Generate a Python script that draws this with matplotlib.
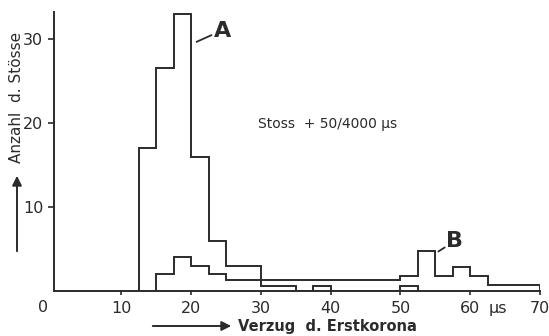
import matplotlib
matplotlib.use("Agg")
import matplotlib.pyplot as plt

# bin edges (µs) and heights
edges_a = [12.5, 15, 17.5, 20, 22.5, 25, 30, 50, 52.5, 55, 57.5, 60, 62.5, 70]
counts_a = [17, 26.5, 33, 16, 6, 3, 1.3, 1.8, 4.8, 1.8, 2.9, 1.8, 0.7]

edges_b = [15, 17.5, 20, 22.5, 25, 30, 35, 37.5, 40, 50, 52.5]
counts_b = [2, 4, 3, 2, 1.3, 0.6, 0, 0.6, 0, 0.6]

xticks = [10, 20, 30, 40, 50, 60, 70]
yticks = [10, 20, 30]

ink = "#2b2b2b"
lw = 1.4

fig = plt.figure(figsize=(5.49, 3.36), dpi=100)
ax = fig.add_axes([0.0747, 0.134, 0.909, 0.830])

ax.stairs(counts_a, edges_a, color=ink, lw=lw)
ax.stairs(counts_b, edges_b, color=ink, lw=lw)

ax.set_xlim(-1.5, 70)
ax.set_ylim(0, 33.2)

# axes look
for s in ["top", "right"]:
    ax.spines[s].set_visible(False)
ax.spines["left"].set_position(("data", 0.4))
ax.spines["bottom"].set_bounds(0.4, 70)
for s in ["left", "bottom"]:
    ax.spines[s].set_color(ink)
    ax.spines[s].set_linewidth(lw)

ax.set_xticks(xticks)
ax.set_xticklabels([str(t) for t in xticks])
ax.set_yticks(yticks)
ax.set_yticklabels([str(t) for t in yticks])
ax.tick_params(colors=ink, labelsize=11.5, width=1.2)
ax.tick_params(axis="x", length=3, pad=4)
ax.tick_params(axis="y", length=4, pad=4)

# corner zero and unit sit among the x tick labels
ax.text(-1.2, -1.1, "0", ha="center", va="top", fontsize=11.5, color=ink)
ax.text(64, -1.2, "µs", ha="center", va="top", fontsize=11.5, color=ink)

# curve labels
fig.text(223, 305, "A", transform=None, ha="center", va="center",
         fontsize=16, fontweight="bold", color=ink)
ax.annotate("", xy=(214, 302), xytext=(194, 293), xycoords="figure pixels",
            textcoords="figure pixels",
            arrowprops=dict(arrowstyle="-", color=ink, lw=1.3))
fig.text(455, 95, "B", transform=None, ha="center", va="center",
         fontsize=16, fontweight="bold", color=ink)
ax.annotate("", xy=(447, 90), xytext=(436, 83), xycoords="figure pixels",
            textcoords="figure pixels",
            arrowprops=dict(arrowstyle="-", color=ink, lw=1.3))

fig.text(258, 212, "Stoss  + 50/4000 µs", transform=None, ha="left",
         va="center", fontsize=10, color=ink)

# axis titles with arrows
fig.text(17, 239, "Anzahl  d. Stösse", transform=None, rotation=90,
         ha="center", va="center", fontsize=11, color=ink)
ax.annotate("", xy=(17, 163), xytext=(17, 82), xycoords="figure pixels",
            textcoords="figure pixels",
            arrowprops=dict(arrowstyle="-|>", color=ink, lw=1.4,
                            mutation_scale=14))
fig.text(238, 9, "Verzug  d. Erstkorona", transform=None, ha="left",
         va="center", fontsize=10.5, fontweight="bold", color=ink)
ax.annotate("", xy=(234, 10), xytext=(150, 10), xycoords="figure pixels",
            textcoords="figure pixels",
            arrowprops=dict(arrowstyle="-|>", color=ink, lw=1.4,
                            mutation_scale=14))

fig.savefig("out.png", dpi=100)
